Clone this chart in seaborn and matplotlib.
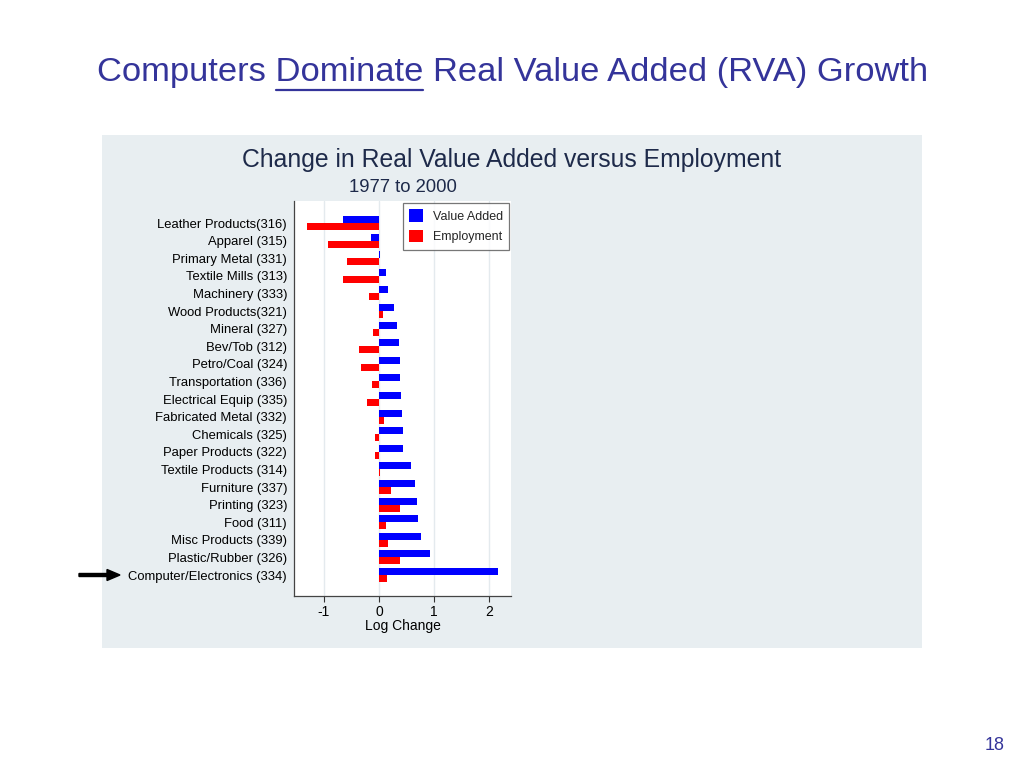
import numpy as np
import pandas as pd
import matplotlib
matplotlib.use('Agg')
import matplotlib.pyplot as plt
import seaborn as sns
from matplotlib.patches import Rectangle, FancyArrow
from matplotlib.lines import Line2D

# ── Data (log change, 1977 to 2000) ─────────────────────
INDUSTRIES = [
    'Leather Products(316)', 'Apparel (315)', 'Primary Metal (331)',
    'Textile Mills (313)', 'Machinery (333)', 'Wood Products(321)',
    'Mineral (327)', 'Bev/Tob (312)', 'Petro/Coal (324)',
    'Transportation (336)', 'Electrical Equip (335)', 'Fabricated Metal (332)',
    'Chemicals (325)', 'Paper Products (322)', 'Textile Products (314)',
    'Furniture (337)', 'Printing (323)', 'Food (311)', 'Misc Products (339)',
    'Plastic/Rubber (326)', 'Computer/Electronics (334)',
]
VALUE_ADDED = [-0.65, -0.15, 0.01, 0.13, 0.16, 0.28, 0.33, 0.37, 0.38, 0.39,
               0.40, 0.42, 0.44, 0.44, 0.58, 0.65, 0.70, 0.71, 0.77, 0.92, 2.16]
EMPLOYMENT = [-1.31, -0.93, -0.58, -0.65, -0.19, 0.07, -0.11, -0.36, -0.33, -0.12,
              -0.21, 0.09, -0.08, -0.07, 0.01, 0.22, 0.38, 0.12, 0.16, 0.38, 0.14]
SERIES = ['Value Added', 'Employment']
COLORS = ['#0000ff', '#ff0000']

TITLE_COLOR = '#34349a'
NAVY = '#1e2a4a'
PANEL = '#e8eef1'

df = pd.DataFrame({
    'industry': INDUSTRIES * 2,
    'change': VALUE_ADDED + EMPLOYMENT,
    'series': [SERIES[0]] * len(INDUSTRIES) + [SERIES[1]] * len(INDUSTRIES),
})

sns.set_theme(style='whitegrid')
plt.rcParams['font.family'] = ['Liberation Sans', 'DejaVu Sans']

fig = plt.figure(figsize=(10.24, 7.68), dpi=100)
fig.patch.set_facecolor('white')

# grey-blue panel behind the chart
fig.patches.append(Rectangle((102 / 1024, 1 - 648 / 768), 820 / 1024, 513 / 768,
                             transform=fig.transFigure, facecolor=PANEL,
                             edgecolor='none', zorder=-5))

ax = fig.add_axes([294 / 1024, 1 - 596 / 768, 217 / 1024, 395 / 768])
ax.set_zorder(2)
sns.barplot(data=df, y='industry', x='change', hue='series', order=INDUSTRIES,
            hue_order=SERIES, palette=COLORS, saturation=1, orient='h',
            width=0.8, edgecolor='none', ax=ax)

ax.set_xlim(-1.545, 2.4)
ax.set_ylim(21.19, -1.25)
ax.set_xticks([-1, 0, 1, 2])
ax.set_xticklabels(['-1', '0', '1', '2'], fontsize=10, color='black')
ax.set_xlabel('Log Change', fontsize=10, color='black', labelpad=0)
ax.set_ylabel('')
ax.tick_params(axis='y', labelsize=9.4, colors='black', length=0, pad=5)
ax.tick_params(axis='x', length=4, width=0.8, color='#333333', pad=2.5, bottom=True)
ax.grid(axis='y', visible=False)
ax.grid(axis='x', color='#e4eaee', linewidth=1)
ax.set_facecolor('white')
for side in ['top', 'right']:
    ax.spines[side].set_visible(False)
for side in ['left', 'bottom']:
    ax.spines[side].set_color('#444444')
    ax.spines[side].set_linewidth(0.9)

leg = ax.legend(loc='upper right', fontsize=9, frameon=True, fancybox=False,
                handlelength=1.1, handleheight=1.2, borderpad=0.5,
                labelspacing=0.55, handletextpad=0.8, borderaxespad=0.15,
                bbox_to_anchor=(1.0, 1.0))
leg.get_frame().set_edgecolor('#555555')
leg.get_frame().set_linewidth(0.9)

# chart titles
fig.text(512 / 1024, 1 - 160 / 768, 'Change in Real Value Added versus Employment',
         ha='center', va='center', fontsize=17.8, color=NAVY)
fig.text(403 / 1024, 1 - 188 / 768, '1977 to 2000',
         ha='center', va='center', fontsize=13.3, color=NAVY)

# slide title with underlined "Dominate"
title_y = 1 - 73 / 768
title_kw = dict(va='center', fontsize=24.8, color=TITLE_COLOR)
full = 'Computers Dominate Real Value Added (RVA) Growth'
x0 = 97 / 1024
fig.text(x0, title_y, full, ha='left', **title_kw)
fig.canvas.draw()
renderer = fig.canvas.get_renderer()
t1 = fig.text(x0, title_y, 'Computers ', ha='left', **title_kw)
t2 = fig.text(x0, title_y, 'Computers Dominate', ha='left', **title_kw)
e1 = t1.get_window_extent(renderer)
e2 = t2.get_window_extent(renderer)
t1.remove()
t2.remove()
fig.lines.append(Line2D([e1.x1 / 1024, e2.x1 / 1024],
                        [1 - 90 / 768, 1 - 90 / 768],
                        transform=fig.transFigure, color=TITLE_COLOR,
                        linewidth=1.6))

# arrow pointing at computers
fig.patches.append(FancyArrow(79 / 1024, 1 - 575 / 768, 41 / 1024, 0,
                              width=3 / 768, head_width=11 / 768,
                              head_length=13 / 1024, length_includes_head=True,
                              transform=fig.transFigure, color='black',
                              zorder=5))

fig.text(995 / 1024, 1 - 745 / 768, '18', ha='center', va='center',
         fontsize=13, color=TITLE_COLOR)

fig.savefig('out.png', dpi=100)
